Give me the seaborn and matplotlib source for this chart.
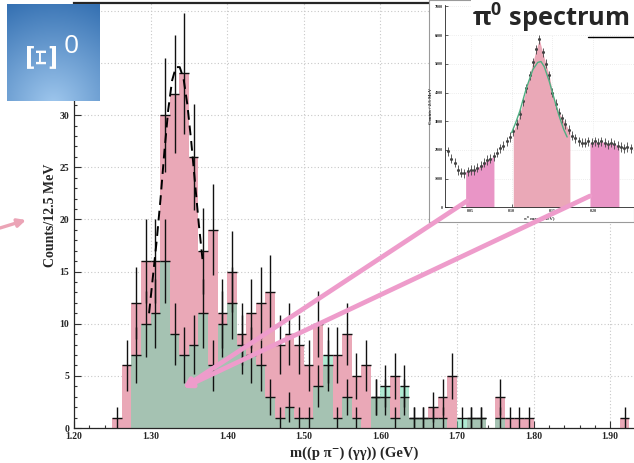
import numpy as np
import pandas as pd
import matplotlib
matplotlib.use("Agg")
import matplotlib.pyplot as plt
import seaborn as sns
from matplotlib.patches import FancyArrowPatch
from matplotlib.lines import Line2D
from matplotlib.ticker import MultipleLocator, FormatStrFormatter

# ---------------- main histogram data (12.5 MeV bins from 1.20 GeV) ----------------
bin_start = 1.20
bin_width = 0.0125
total_counts = [0, 0, 0, 0, 1, 6, 12, 16, 16, 30,
                32, 34, 26, 17, 19, 11, 15, 9, 11, 12,
                13, 8, 9, 8, 6, 10, 6, 7, 9, 5,
                6, 3, 3, 5, 3, 1, 1, 2, 3, 5,
                0, 1, 1, 0, 3, 1, 1, 1, 0, 0,
                0, 0, 0, 0, 0, 0, 0, 1]
side_counts = [0, 0, 0, 0, 0, 0, 7, 10, 11, 16,
               9, 7, 8, 11, 6, 10, 12, 8, 7, 6,
               3, 1, 2, 1, 1, 4, 7, 1, 3, 1,
               0, 3, 4, 1, 4, 1, 1, 1, 1, 0,
               1, 1, 1, 0, 1, 0, 0, 0, 0, 0,
               0, 0, 0, 0, 0, 0, 0, 0]
# dashed fit curve
fit_m = [1.298, 1.303, 1.308, 1.313, 1.318, 1.323, 1.328, 1.333, 1.338,
         1.343, 1.348, 1.353, 1.358, 1.363, 1.368]
fit_counts = [11.0, 14.5, 18.0, 22.0, 26.5, 30.5, 33.3, 34.6, 34.6,
              33.5, 31.0, 27.5, 23.5, 19.5, 16.0]

# ---------------- inset (pi0 spectrum) data ----------------
pi0_mass = [0.022, 0.026, 0.030, 0.034, 0.038, 0.042, 0.046, 0.050, 0.054, 0.058,
            0.062, 0.066, 0.070, 0.074, 0.078, 0.082, 0.086, 0.090, 0.094, 0.098,
            0.102, 0.106, 0.110, 0.114, 0.118, 0.122, 0.126, 0.130, 0.134, 0.138,
            0.142, 0.146, 0.150, 0.154, 0.158, 0.162, 0.166, 0.170, 0.174, 0.178,
            0.182, 0.186, 0.190, 0.194, 0.198, 0.202, 0.206, 0.210, 0.214, 0.218,
            0.222, 0.226, 0.230, 0.234, 0.238, 0.242, 0.246]
pi0_counts = [1950, 1700, 1550, 1300, 1200, 1180, 1250, 1300, 1300, 1380,
              1450, 1550, 1650, 1700, 1780, 1900, 2050, 2150, 2300, 2450,
              2650, 2900, 3250, 3700, 4150, 4600, 5050, 5500, 5850, 5400,
              5000, 4600, 4000, 3600, 3300, 3100, 2900, 2700, 2500, 2400,
              2300, 2250, 2250, 2300, 2250, 2300, 2250, 2300, 2250, 2200,
              2250, 2200, 2150, 2100, 2050, 2100, 2050]
pi0_fit_mass = [0.100, 0.105, 0.110, 0.118, 0.126, 0.132, 0.136, 0.140, 0.146,
                0.152, 0.158, 0.164, 0.168]
pi0_fit_counts = [2600, 2950, 3350, 4150, 4800, 5050, 5080, 4900, 4400,
                  3800, 3200, 2700, 2450]
left_band = (0.0436, 0.0783)
signal_band = (0.102, 0.1714)
right_band = (0.196, 0.2315)

x_ticks = [1.20, 1.30, 1.40, 1.50, 1.60, 1.70, 1.80, 1.90]
y_ticks = [0, 5, 10, 15, 20, 25, 30, 35, 40]
y_ticklabels = ["0", "5", "10", "15", "20", "25", "30", "", ""]
inset_xticks = [0.05, 0.10, 0.15, 0.20, 0.25]
inset_xticklabels = ["0.05", "0.10", "0.15", "0.20", ""]
inset_yticks = [0, 1000, 2000, 3000, 4000, 5000, 6000, 7000]

# ---------------- style ----------------
PINK = "#EAA8B7"
GREEN = "#6DD9AE"
SIDE_PINK = "#E995C6"
ARROW_PINK = "#EE9CCB"

sns.set_style("ticks")
plt.rcParams["font.family"] = ["Liberation Serif", "DejaVu Serif"]

W, H = 634, 463
fig = plt.figure(figsize=(W / 100, H / 100), dpi=100)


def fx(x):
    return x / W


def fy(y):
    return 1 - y / H


# ---------------- main axes ----------------
ax = fig.add_axes([fx(74), fy(428), (W - 74) / W, (428 - 3) / H], zorder=0)
edges = (bin_start + bin_width * np.arange(len(total_counts) + 1)).tolist()
centers = [e + bin_width / 2 for e in edges[:-1]]
df = pd.DataFrame({"m": centers, "total": total_counts, "side": side_counts})

ax.set_axisbelow(True)
ax.grid(True, which="major", linestyle=(0, (1, 2)), color="#c8c8c8", linewidth=0.8)
sns.histplot(data=df, x="m", weights="total", bins=edges, element="step",
             fill=True, color=PINK, alpha=1.0, linewidth=0, ax=ax)
sns.histplot(data=df, x="m", weights="side", bins=edges, element="step",
             fill=True, color=GREEN, alpha=0.55, linewidth=0, ax=ax)

for col in ["total", "side"]:
    sub = df[df[col] > 0]
    ax.errorbar(sub["m"], sub[col], yerr=np.sqrt(sub[col]), xerr=bin_width / 2,
                fmt="none", ecolor="#111111", elinewidth=1.0, capsize=0, zorder=3)

sns.lineplot(x=fit_m, y=fit_counts, ax=ax, color="black", linestyle=(0, (5, 3)),
             linewidth=1.4, zorder=4)

ax.set_xlim(1.20, 1.20 + (W - 74) / 766.0)
ax.set_ylim(0, 425 / 10.43)
ax.set_xticks(x_ticks)
ax.set_yticks(y_ticks)
ax.set_yticklabels(y_ticklabels)
ax.xaxis.set_major_formatter(FormatStrFormatter("%.2f"))
ax.xaxis.set_minor_locator(MultipleLocator(0.02))
ax.yaxis.set_minor_locator(MultipleLocator(1))
ax.tick_params(which="both", direction="in", labelsize=7, width=0.8, color="#333333")
ax.tick_params(which="major", length=5)
ax.tick_params(which="minor", length=2.5)
ax.tick_params(axis="x", pad=3)
for lab in ax.get_xticklabels() + ax.get_yticklabels():
    lab.set_fontweight("bold")
ax.spines["right"].set_visible(False)
ax.spines["top"].set_linewidth(1.6)
ax.spines["left"].set_linewidth(0.9)
ax.spines["bottom"].set_linewidth(0.9)
ax.set_xlabel("m((p π⁻) (γγ)) (GeV)", fontsize=10.5, fontweight="bold", labelpad=4)
ax.set_ylabel("Counts/12.5 MeV", fontsize=10, fontweight="bold", labelpad=2)

# ---------------- inset ----------------
bg = fig.add_axes([fx(429), fy(222), (W - 429) / W, 222 / H], zorder=2)
bg.set_xticks([])
bg.set_yticks([])
bg.set_facecolor("white")
for s in bg.spines.values():
    s.set_color("#9a9a9a")
    s.set_linewidth(0.8)

ins = fig.add_axes([fx(445), fy(207.3), (W - 445) / W, (207.3 - 5) / H], zorder=3)
pm = np.array(pi0_mass)
pc = np.array(pi0_counts)
for band, colr in [(left_band, SIDE_PINK), (signal_band, PINK), (right_band, SIDE_PINK)]:
    sel = (pm >= band[0]) & (pm <= band[1])
    xs = np.concatenate([[band[0]], pm[sel], [band[1]]])
    ys = np.concatenate([[pc[sel][0]], pc[sel], [pc[sel][-1]]])
    ins.fill_between(xs, 0, ys, color=colr, linewidth=0, zorder=1)
ins.errorbar(pm, pc, yerr=160, fmt="o", ms=1.2, color="#444444", elinewidth=0.6,
             capsize=0, zorder=3)
sns.lineplot(x=pi0_fit_mass, y=pi0_fit_counts, ax=ins, color="#4fae82",
             linewidth=1.0, zorder=4)
ins.set_xlim(0.0183, 0.2499)
ins.set_ylim(0, 7050)
ins.set_xticks(inset_xticks)
ins.set_xticklabels(inset_xticklabels)
ins.set_yticks(inset_yticks)
ins.tick_params(which="both", direction="in", labelsize=3, length=2, width=0.5, pad=1.5)
for lab in ins.get_xticklabels() + ins.get_yticklabels():
    lab.set_fontweight("bold")
ins.grid(True, linestyle=(0, (1, 2)), color="#dddddd", linewidth=0.5)
ins.spines["right"].set_visible(False)
ins.spines["top"].set_visible(False)
for s in ["left", "bottom"]:
    ins.spines[s].set_linewidth(0.6)
ins.set_xlabel("π⁰ mass (GeV)", fontsize=3.5, fontweight="bold", labelpad=1)
ins.set_ylabel("Counts / 2.5 MeV", fontsize=3.5, fontweight="bold", labelpad=1)

# title box over the inset
tb = fig.add_axes([fx(471), fy(35), (W - 471) / W, 35 / H], zorder=4)
tb.set_facecolor("white")
tb.set_xticks([])
tb.set_yticks([])
for s in tb.spines.values():
    s.set_visible(False)
fig.text(fx(472), fy(27), r"$\mathregular{\pi^0}$ spectrum", fontsize=18.3,
         fontweight="bold", family=["Open Sans", "DejaVu Sans"], va="baseline",
         ha="left", zorder=10)
fig.add_artist(Line2D([fx(588), fx(634)], [fy(37), fy(37)], color="black",
                      linewidth=1.0, zorder=5))

# ---------------- Xi0 badge ----------------
xb = fig.add_axes([fx(7), fy(101), 92 / W, 97 / H], zorder=5)
yy, xx = np.mgrid[0:1:120j, 0:1:120j]
d = np.clip(np.sqrt((xx - 0.5) ** 2 + (yy - 1.05) ** 2) / 1.15, 0, 1)
light = np.array([160, 200, 238]) / 255
dark = np.array([52, 112, 178]) / 255
img = light[None, None, :] * (1 - d[..., None]) + dark[None, None, :] * d[..., None]
xb.imshow(img, extent=[0, 1, 0, 1], aspect="auto")
xb.set_axis_off()
xb.text(0.41, 0.48, "Ξ", color="white", fontsize=28, rotation=90,
        ha="center", va="center", family=["DejaVu Serif"])
xb.text(0.70, 0.56, "0", color="white", fontsize=19, ha="center", va="center",
        family=["Open Sans", "DejaVu Sans"])

# ---------------- arrows ----------------
for tail in [(467, 201), (590, 196)]:
    fig.add_artist(FancyArrowPatch((fx(tail[0]), fy(tail[1])), (fx(183), fy(388)),
                                   arrowstyle="-|>", mutation_scale=12, linewidth=3.4,
                                   color=ARROW_PINK, transform=fig.transFigure,
                                   zorder=8, shrinkA=0, shrinkB=0))
fig.add_artist(FancyArrowPatch((fx(0), fy(228)), (fx(26), fy(220)),
                               arrowstyle="-|>", mutation_scale=12, linewidth=2.4,
                               color="#EBA4B6", transform=fig.transFigure,
                               zorder=8, shrinkA=0, shrinkB=0))

fig.savefig("out.png", dpi=100)
